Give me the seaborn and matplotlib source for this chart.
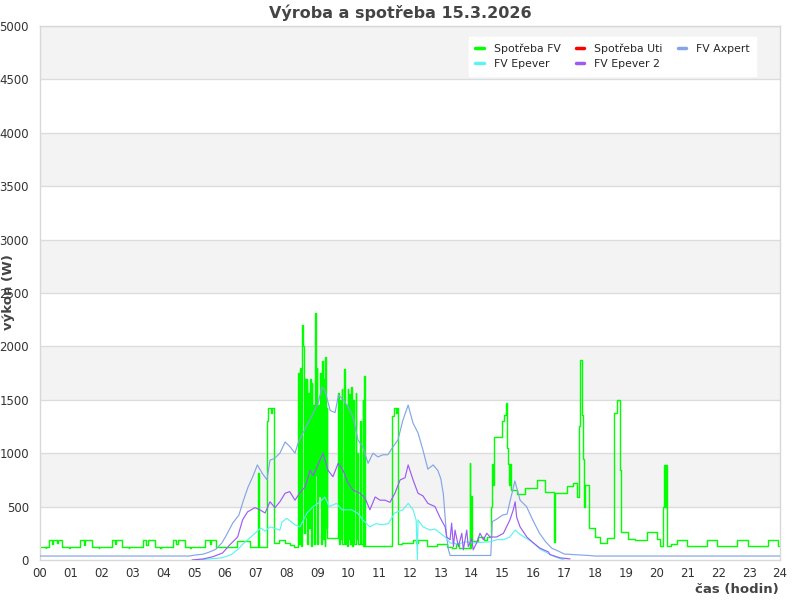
import matplotlib
matplotlib.use("Agg")
import matplotlib.pyplot as plt
import pandas as pd
import seaborn as sns
from matplotlib.lines import Line2D

# hours of day / watts
spotreba_fv_t = [
    0.00, 0.18, 0.20, 0.30, 0.40, 0.43, 0.55, 0.58, 0.72, 0.95, 0.97, 1.30, 1.42, 1.46, 1.70, 1.90, 1.92,
    2.33, 2.44, 2.48, 2.67, 2.88, 2.90, 3.34, 3.45, 3.50, 3.73, 3.90, 3.92, 4.31, 4.42, 4.46, 4.70, 4.88,
    4.90, 5.35, 5.50, 5.54, 5.72, 6.40, 6.80, 7.07, 7.10, 7.36, 7.40, 7.50, 7.53, 7.59, 7.75, 7.95, 8.10,
    8.25, 8.38, 8.41, 8.43, 8.46, 8.51, 8.53, 8.56, 8.60, 8.62, 8.65, 8.67, 8.70, 8.72, 8.76, 8.78, 8.81,
    8.83, 8.86, 8.88, 8.93, 8.95, 8.97, 8.99, 9.03, 9.05, 9.08, 9.10, 9.16, 9.18, 9.21, 9.23, 9.25, 9.27,
    9.30, 9.32, 9.68, 9.70, 9.73, 9.75, 9.79, 9.81, 9.87, 9.89, 9.93, 9.95, 9.98, 10.00, 10.03, 10.05,
    10.09, 10.11, 10.16, 10.18, 10.24, 10.26, 10.29, 10.31, 10.38, 10.40, 10.47, 10.49, 10.52, 10.54,
    11.43, 11.47, 11.55, 11.58, 11.62, 11.75, 12.10, 12.20, 12.25, 12.55, 12.87, 13.20, 13.35, 13.50,
    13.60, 13.93, 13.95, 13.98, 14.00, 14.20, 14.40, 14.50, 14.64, 14.66, 14.69, 14.72, 14.98, 15.05,
    15.10, 15.16, 15.19, 15.22, 15.25, 15.28, 15.46, 15.73, 16.11, 16.38, 16.66, 16.69, 17.08, 17.30,
    17.40, 17.49, 17.52, 17.58, 17.62, 17.64, 17.66, 17.82, 18.00, 18.16, 18.38, 18.63, 18.72, 18.81,
    18.85, 19.07, 19.30, 19.68, 20.00, 20.10, 20.20, 20.24, 20.27, 20.30, 20.33, 20.45, 20.65, 20.98,
    21.62, 21.95, 22.60, 22.97, 23.62, 23.95, 24.00,
]
spotreba_fv_w = [
    125, 110, 125, 185, 150, 185, 160, 185, 125, 110, 125, 185, 140, 185, 125, 110, 125,
    185, 150, 185, 125, 110, 125, 185, 140, 185, 125, 110, 125, 185, 150, 185, 125, 110,
    125, 185, 150, 185, 125, 175, 125, 815, 125, 1300, 1420, 1380, 1420, 160, 190, 160, 140,
    125, 1750, 150, 1800, 130, 2200, 2000, 250, 1690, 400, 1690, 150, 1560, 300, 1690, 130, 1660,
    500, 1450, 150, 2310, 800, 1800, 150, 1450, 600, 1750, 150, 1860, 200, 1690, 130, 1900, 300,
    1420, 210, 1560, 150, 1500, 200, 1600, 150, 1790, 150, 1450, 130, 1600, 200, 1550, 150,
    1620, 130, 1500, 150, 1560, 200, 1000, 150, 1300, 150, 1500, 130, 1720, 130,
    1350, 1420, 1380, 1420, 150, 160, 190, 160, 190, 130, 150, 125, 110, 150,
    110, 905, 110, 600, 180, 215, 190, 215, 500, 900, 700, 1150, 1300, 1360,
    1470, 1050, 900, 700, 900, 655, 620, 675, 750, 640, 170, 630, 690, 720,
    590, 1250, 1870, 1360, 950, 500, 700, 300, 215, 160, 205, 1375, 1500, 840,
    260, 200, 190, 260, 200, 130, 500, 890, 500, 890, 130, 150, 190, 130,
    190, 130, 190, 130, 190, 130, 130,
]

# no readings for this series on that day
spotreba_uti_t = []
spotreba_uti_w = []

fv_axpert_t = [
    0.00, 4.85, 5.00, 5.30, 5.50, 5.70, 5.90, 6.05, 6.25, 6.45, 6.60, 6.75, 6.90, 7.05, 7.20, 7.36,
    7.46, 7.60, 7.78, 7.95, 8.11, 8.27, 8.37, 8.53, 8.69, 8.86, 9.02, 9.15, 9.24, 9.41, 9.57, 9.68,
    9.84, 9.99, 10.15, 10.31, 10.47, 10.64, 10.80, 10.96, 11.12, 11.28, 11.45, 11.61, 11.77, 11.94,
    12.10, 12.26, 12.42, 12.58, 12.75, 12.90, 13.00, 13.08, 13.14, 13.19, 13.25, 13.30, 14.62, 14.67,
    14.80, 15.00, 15.15, 15.24, 15.33, 15.40, 15.57, 15.78, 15.98, 16.20, 16.40, 16.60, 16.85, 17.00,
    17.50, 17.80, 18.00, 24.00,
]
fv_axpert_w = [
    37, 37, 45, 55, 75, 100, 160, 235, 345, 420, 560, 685, 780, 890, 815, 750,
    935, 950, 1000, 1105, 1060, 1000, 1095, 1190, 1280, 1375, 1470, 1620, 1590, 1400, 1380, 1545,
    1500, 1435, 1340, 1125, 1060, 905, 1000, 965, 985, 985, 1060, 1125, 1310, 1450,
    1280, 1190, 1030, 850, 890, 840, 760, 620, 400, 215, 94, 42, 42, 360,
    380, 420, 430, 546, 650, 740, 560, 500, 375, 250, 170, 110, 78, 56,
    47, 42, 37, 37,
]

fv_epever_t = [
    5.08, 5.50, 5.90, 6.20, 6.40, 6.62, 6.84, 7.16, 7.30, 7.46, 7.78, 7.85, 8.00, 8.27, 8.43, 8.66,
    8.86, 9.08, 9.24, 9.38, 9.62, 9.79, 10.10, 10.30, 10.47, 10.70, 10.90, 11.10, 11.30, 11.50, 11.77,
    11.94, 12.10, 12.20, 12.24, 12.26, 12.42, 12.65, 12.81, 13.14, 13.30, 13.57, 13.80, 14.05, 14.60,
    14.81, 15.03, 15.24, 15.41, 15.57, 15.79, 16.00, 16.22, 16.49, 16.70, 16.90, 17.00,
]
fv_epever_w = [
    0, 10, 20, 50, 95, 160, 215, 300, 270, 310, 280, 355, 390, 330, 310, 440,
    500, 545, 590, 500, 530, 470, 470, 440, 375, 310, 340, 330, 340, 440, 470,
    530, 470, 375, 0, 375, 310, 280, 290, 215, 160, 150, 170, 160, 170,
    190, 190, 215, 280, 240, 200, 160, 100, 60, 30, 10, 0,
]

fv_epever2_t = [
    4.93, 5.30, 5.60, 5.92, 6.15, 6.41, 6.57, 6.73, 6.97, 7.13, 7.30, 7.46, 7.62, 7.78, 7.95, 8.10,
    8.27, 8.43, 8.60, 8.76, 8.86, 9.08, 9.18, 9.34, 9.50, 9.67, 9.83, 9.99, 10.15, 10.38, 10.54, 10.70,
    10.87, 11.03, 11.19, 11.35, 11.51, 11.68, 11.84, 11.94, 12.10, 12.26, 12.42, 12.58, 12.81, 12.97,
    13.14, 13.19, 13.30, 13.35, 13.41, 13.46, 13.57, 13.68, 13.73, 13.84, 13.89, 14.00, 14.05, 14.16,
    14.27, 14.38, 14.49, 14.60, 14.81, 15.03, 15.24, 15.35, 15.41, 15.46, 15.57, 15.79, 16.00, 16.22,
    16.49, 16.54, 16.87, 17.19,
]
fv_epever2_w = [
    0, 10, 30, 65, 140, 215, 375, 450, 490, 470, 440, 545, 490, 545, 625, 640,
    560, 630, 685, 840, 790, 935, 1000, 840, 780, 905, 840, 720, 655, 625, 580, 470,
    590, 560, 560, 540, 625, 750, 770, 890, 750, 625, 600, 530, 500, 400,
    310, 215, 190, 345, 125, 280, 125, 250, 95, 280, 125, 200, 95, 160,
    250, 190, 250, 215, 215, 250, 375, 470, 545, 400, 310, 215, 160, 110,
    75, 50, 20, 10,
]

series = [
    ("Spotřeba FV", spotreba_fv_t, spotreba_fv_w, "#00ff00", 1.0, "steps-post"),
    ("Spotřeba Uti", spotreba_uti_t, spotreba_uti_w, "#ff0000", 1.0, "steps-post"),
    ("FV Axpert", fv_axpert_t, fv_axpert_w, "#84a6e6", 0.85, "default"),
    ("FV Epever", fv_epever_t, fv_epever_w, "#5ef3ee", 0.85, "default"),
    ("FV Epever 2", fv_epever2_t, fv_epever2_w, "#9c5cf4", 0.85, "default"),
]

sns.set_style("white")
plt.rcParams["font.family"] = ["DejaVu Sans"]

fig = plt.figure(figsize=(8, 6), dpi=100)
ax = fig.add_axes([0.05, 0.0667, 0.925, 0.89])

# alternating background bands and grid
for lo in range(500, 5000, 1000):
    ax.axhspan(lo, lo + 500, color="#f3f3f3", zorder=0, lw=0)
for y in range(500, 5001, 500):
    ax.axhline(y, color="#dcdcdc", lw=1, zorder=0.5)

handles = {}
for i, (name, t, w, color, lw, ds) in enumerate(series):
    if t:
        df = pd.DataFrame({"hodina": t, "W": w})
        sns.lineplot(data=df, x="hodina", y="W", ax=ax, color=color, lw=lw,
                     drawstyle=ds, estimator=None, sort=False, zorder=2 + i)
    handles[name] = Line2D([], [], color=color, lw=2.5)

ax.set_xlim(0, 24)
ax.set_ylim(0, 5000)
ax.set_xticks(range(0, 25))
ax.set_xticklabels([f"{h:02d}" for h in range(0, 25)])
ax.set_yticks(range(0, 5001, 500))
ax.tick_params(axis="both", length=0, labelsize=8.5, colors="#333333")
ax.tick_params(axis="x", pad=5)
ax.tick_params(axis="y", pad=8)
ax.set_xlabel("")
ax.set_ylabel("")
for sp in ax.spines.values():
    sp.set_color("#d8d8d8")
    sp.set_linewidth(1)

order = ["Spotřeba FV", "FV Epever", "Spotřeba Uti", "FV Epever 2", "FV Axpert"]
leg = ax.legend([handles[n] for n in order], order, ncol=3, loc="upper right",
                bbox_to_anchor=(0.975, 0.99), frameon=True, fancybox=False,
                fontsize=7.8, handlelength=0.8, columnspacing=1.4, handletextpad=0.9,
                borderpad=0.6, labelspacing=0.5)
leg.get_frame().set_facecolor("white")
leg.get_frame().set_edgecolor("white")
leg.get_frame().set_alpha(1)

fig.text(0.5, 0.993, "Výroba a spotřeba 15.3.2026", ha="center", va="top",
         fontsize=11.5, fontweight="bold", color="#444444")
fig.text(0.974, 1 - 589 / 600, "čas (hodin)", ha="right", va="center",
         fontsize=9.5, fontweight="bold", color="#444444")
fig.text(9 / 800, 1 - 292 / 600, "výkon (W)", ha="center", va="center",
         rotation=90, fontsize=9.5, fontweight="bold", color="#444444")

fig.savefig("out.png", dpi=100)
